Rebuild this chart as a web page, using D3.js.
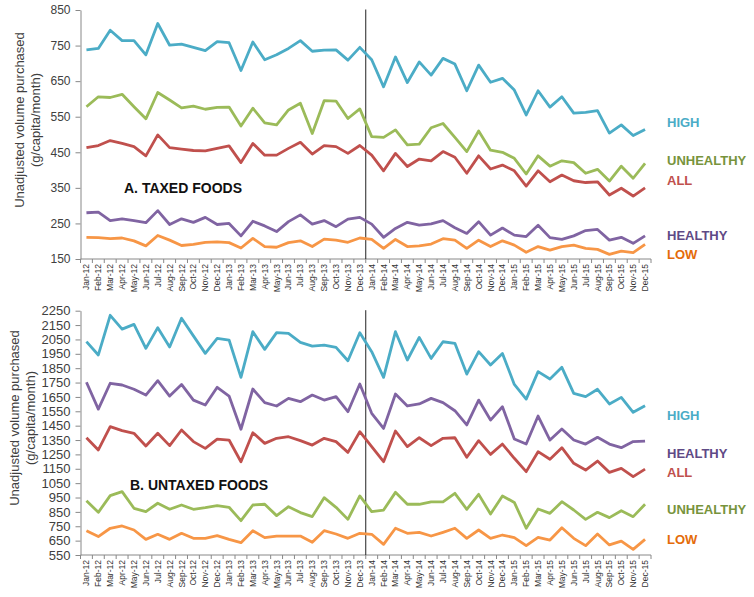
<!DOCTYPE html>
<html>
<head>
<meta charset="utf-8">
<script src="https://cdn.jsdelivr.net/npm/d3@7"></script>
<style>
  body { margin: 0; background: #fff; }
  svg { font-family: "Liberation Sans", Arial, sans-serif; }
</style>
</head>
<body>
<script>
const width = 754;
const height = 597;

const years = ["12", "13", "14", "15"];
const monthNames = ["Jan", "Feb", "Mar", "Apr", "May", "Jun", "Jul", "Aug", "Sep", "Oct", "Nov", "Dec"];
const months = [];
years.forEach(y => monthNames.forEach(m => months.push(m + "-" + y)));

// A. taxed foods
const taxedHigh = [738, 742, 793, 764, 764, 724, 812, 751, 754, 745, 736, 761, 758, 680, 760,
  710, 724, 742, 764, 734, 737, 738, 709, 745,
  710, 634, 718, 646, 704, 667, 714, 698, 623, 695, 647, 658,
  625, 555, 623, 577, 606, 560, 562, 567, 504, 527, 497, 514];
const taxedUnhealthy = [578, 606, 604, 613, 578, 544, 618, 597, 575, 580, 571, 576, 577, 524, 574,
  533, 527, 569, 588, 503, 595, 594, 545, 572,
  494, 492, 513, 471, 473, 519, 531, 492, 452, 510, 456, 450,
  433, 389, 440, 411, 426, 421, 391, 402, 369, 411, 377, 419];
const taxedAll = [463, 469, 483, 475, 466, 440, 499, 463, 459, 455, 454, 461, 468, 421, 475,
  442, 442, 461, 478, 445, 469, 466, 447, 469,
  442, 398, 447, 410, 431, 426, 452, 436, 391, 440, 403, 414,
  398, 355, 398, 367, 386, 370, 365, 367, 330, 349, 327, 350];
const taxedHealthy = [280, 282, 258, 263, 258, 252, 286, 247, 263, 253, 267, 247, 250, 215, 256,
  243, 227, 255, 274, 248, 258, 241, 262, 267,
  248, 211, 236, 253, 245, 249, 258, 238, 222, 255, 217, 237,
  217, 213, 245, 210, 205, 215, 230, 233, 203, 211, 194, 215];
const taxedLow = [211, 210, 207, 209, 201, 187, 216, 203, 188, 191, 197, 198, 196, 181, 208,
  185, 183, 196, 201, 185, 206, 203, 197, 209,
  205, 180, 205, 185, 187, 192, 207, 203, 180, 203, 185, 201,
  189, 169, 185, 175, 185, 189, 180, 177, 163, 172, 168, 191];

// B. untaxed foods
const untaxedHigh = [2035, 1942, 2218, 2122, 2155, 1988, 2132, 1998, 2197, 2075, 1953, 2057, 2046, 1786, 2104,
  1981, 2097, 2092, 2030, 2004, 2011, 1995, 1902, 2097,
  1965, 1786, 2104, 1907, 2064, 1918, 2034, 2023, 1809, 1965, 1872, 1953,
  1737, 1635, 1826, 1775, 1856, 1675, 1652, 1703, 1601, 1647, 1543, 1589];
const untaxedHealthy = [1752, 1565, 1745, 1733, 1703, 1663, 1763, 1656, 1737, 1628, 1594, 1717, 1656, 1425, 1705,
  1610, 1587, 1640, 1617, 1663, 1628, 1652, 1547, 1740,
  1536, 1431, 1670, 1587, 1601, 1640, 1610, 1554, 1455, 1628, 1489, 1582,
  1357, 1322, 1517, 1350, 1427, 1350, 1322, 1369, 1322, 1297, 1339, 1343];
const untaxedAll = [1366, 1281, 1443, 1415, 1397, 1308, 1397, 1311, 1420, 1339, 1292, 1357, 1350, 1199, 1401,
  1327, 1362, 1373, 1346, 1315, 1362, 1339, 1264, 1408,
  1304, 1199, 1413, 1304, 1366, 1311, 1362, 1366, 1230, 1346, 1250, 1322,
  1223, 1130, 1269, 1216, 1297, 1188, 1141, 1204, 1125, 1153, 1095, 1148];
const untaxedUnhealthy = [928, 847, 963, 991, 875, 852, 910, 868, 898, 868, 879, 893, 882, 789, 898,
  903, 824, 886, 845, 817, 949, 882, 798, 961,
  852, 863, 986, 903, 903, 919, 919, 979, 868, 972, 835, 961,
  916, 736, 870, 840, 921, 863, 798, 847, 810, 858, 817, 903];
const untaxedLow = [719, 678, 736, 752, 724, 659, 694, 659, 701, 666, 666, 685, 659, 636, 719,
  671, 682, 682, 682, 638, 719, 696, 666, 701,
  694, 624, 736, 701, 708, 682, 708, 736, 666, 724, 666, 689,
  671, 615, 673, 654, 740, 666, 615, 696, 620, 647, 589, 659];

const taxedTicks = d3.range(150, 851, 100);
const untaxedTicks = d3.range(550, 2251, 100);

const colors = {
  HIGH: {line: "#4bacc6", text: "#4bacc6"},
  UNHEALTHY: {line: "#9bbb59", text: "#77933c"},
  ALL: {line: "#c0504d", text: "#c0504d"},
  HEALTHY: {line: "#8064a2", text: "#5f4a86"},
  LOW: {line: "#f79646", text: "#e46c0a"}
};

const panels = [
  {
    title: "A. TAXED FOODS", titleX: 124, titleY: 193,
    domain: [150, 850], top: 10, bottom: 259, ticks: taxedTicks, tickFont: 12,
    axisTitleY: 120, axisTitleX: 20,
    series: [
      {name: "HIGH", values: taxedHigh, labelY: 122},
      {name: "UNHEALTHY", values: taxedUnhealthy, labelY: 160},
      {name: "ALL", values: taxedAll, labelY: 180},
      {name: "HEALTHY", values: taxedHealthy, labelY: 235},
      {name: "LOW", values: taxedLow, labelY: 254}
    ]
  },
  {
    title: "B. UNTAXED FOODS", titleX: 130, titleY: 490,
    domain: [550, 2250], top: 310.7, bottom: 555, ticks: untaxedTicks, tickFont: 13,
    axisTitleY: 418, axisTitleX: 15,
    series: [
      {name: "HIGH", values: untaxedHigh, labelY: 415},
      {name: "HEALTHY", values: untaxedHealthy, labelY: 453},
      {name: "ALL", values: untaxedAll, labelY: 472},
      {name: "UNHEALTHY", values: untaxedUnhealthy, labelY: 509},
      {name: "LOW", values: untaxedLow, labelY: 539}
    ]
  }
];

const svg = d3.select("body").append("svg")
  .attr("width", width)
  .attr("height", height);

// the top of the "2250" label is cut off in the original
svg.append("defs").append("clipPath")
  .attr("id", "clipB")
  .append("rect")
  .attr("x", -100).attr("y", 305).attr("width", 110).attr("height", 300);

const x = d3.scaleBand()
  .domain(months)
  .range([80.5, 651]);

const xc = d => x(d) + x.bandwidth() / 2;

panels.forEach((p, pi) => {
  const y = d3.scaleLinear().domain(p.domain).range([p.bottom, p.top]);
  const g = svg.append("g");

  // y axis
  const yAxis = g.append("g")
    .attr("transform", "translate(80.5,0)")
    .call(d3.axisLeft(y).tickValues(p.ticks).tickFormat(d3.format("d"))
      .tickSize(5).tickSizeOuter(0).tickPadding(5));
  if (pi === 1) yAxis.attr("clip-path", "url(#clipB)");
  yAxis.select(".domain").attr("stroke", "#888");
  yAxis.selectAll(".tick line").attr("stroke", "#888");
  yAxis.selectAll(".tick text")
    .attr("font-size", p.tickFont)
    .attr("fill", "#404040")
    .style("font-family", "Liberation Sans, Arial, sans-serif");

  // x axis, ticks sit between the months
  const xAxis = g.append("g")
    .attr("transform", `translate(0,${p.bottom})`);
  xAxis.append("line")
    .attr("x1", 80.5).attr("x2", 651)
    .attr("stroke", "#888");
  xAxis.selectAll(".tk")
    .data(months.concat(["end"]))
    .enter().append("line")
    .attr("x1", (d, i) => 80.5 + i * x.step())
    .attr("x2", (d, i) => 80.5 + i * x.step())
    .attr("y1", 0).attr("y2", 4)
    .attr("stroke", "#888");
  xAxis.selectAll(".lb")
    .data(months)
    .enter().append("text")
    .attr("transform", d => `translate(${xc(d) + 3},5) rotate(-90)`)
    .attr("text-anchor", "end")
    .attr("font-size", 8.5)
    .attr("fill", "#333")
    .text(d => d);

  // tax start marker
  g.append("line")
    .attr("x1", x("Jan-14")).attr("x2", x("Jan-14"))
    .attr("y1", p.top - 0.5).attr("y2", p.bottom)
    .attr("stroke", "#222")
    .attr("stroke-width", 1);

  const line = d3.line()
    .x((d, i) => xc(months[i]))
    .y(d => y(d));

  p.series.forEach(s => {
    g.append("path")
      .datum(s.values)
      .attr("fill", "none")
      .attr("stroke", colors[s.name].line)
      .attr("stroke-width", 2.8)
      .attr("stroke-linejoin", "round")
      .attr("d", line);

    g.append("text")
      .attr("x", 667)
      .attr("y", s.labelY + 5)
      .attr("font-size", 13)
      .attr("font-weight", "bold")
      .attr("fill", colors[s.name].text)
      .text(s.name);
  });

  g.append("text")
    .attr("x", p.titleX)
    .attr("y", p.titleY)
    .attr("font-size", 14)
    .attr("font-weight", "bold")
    .attr("fill", "#111")
    .text(p.title);

  const at = g.append("text")
    .attr("transform", `translate(${p.axisTitleX},${p.axisTitleY}) rotate(-90)`)
    .attr("text-anchor", "middle")
    .attr("font-size", 13)
    .attr("fill", "#404040");
  at.append("tspan").attr("x", 0).attr("dy", 4).text("Unadjusted volume purchased");
  at.append("tspan").attr("x", 0).attr("dy", 16).text("(g/capita/month)");
});
</script>
</body>
</html>
